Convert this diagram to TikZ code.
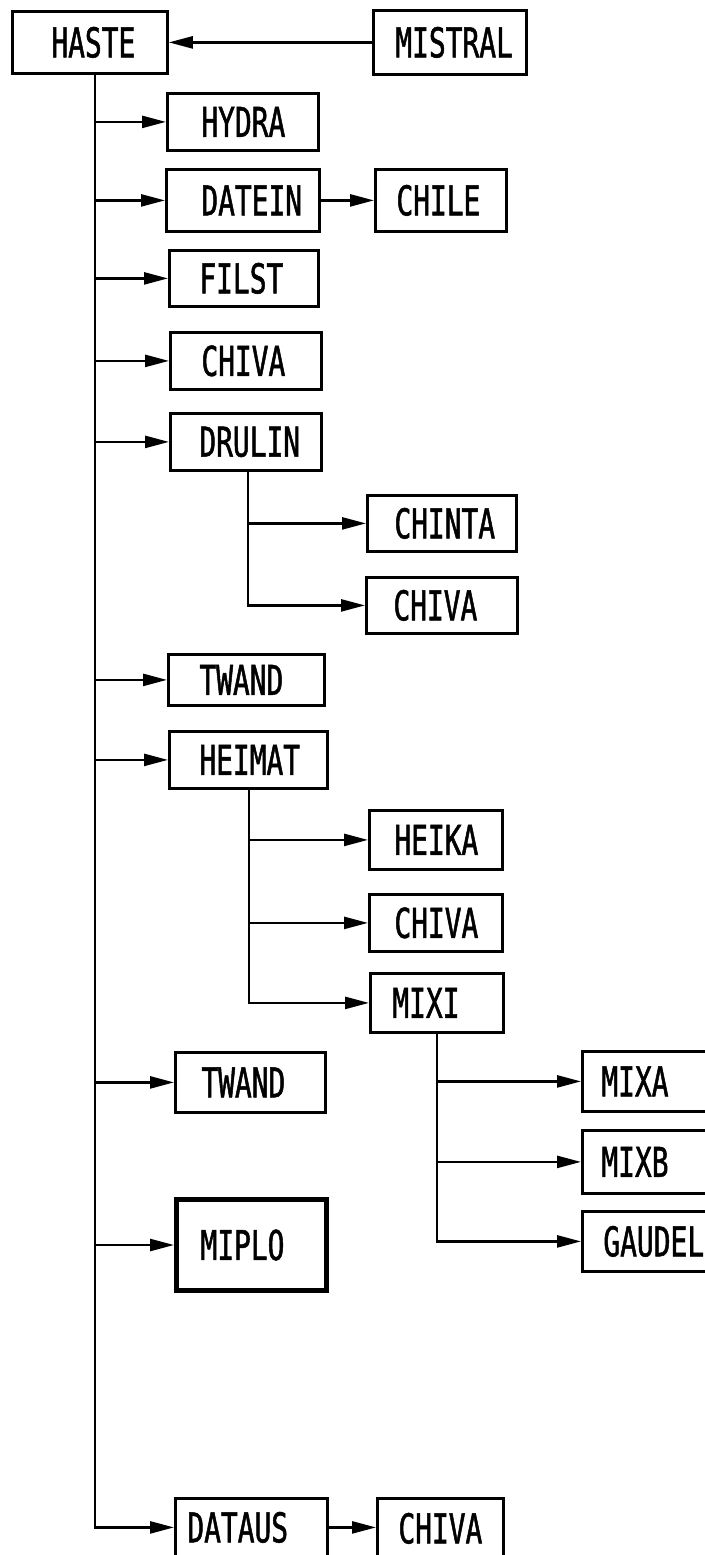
\documentclass[tikz,border=0pt]{standalone}
\usepackage{fontspec}
\newfontfamily\boxfont[FakeStretch=0.68,FakeBold=1.2]{DejaVu Sans Mono}
\usetikzlibrary{arrows.meta}
\newcommand\bx[8][]{%
  \node[box,#1,minimum width=#5pt,minimum height=#6pt] (#2) at (#3,#4)
    {\makebox[#5pt][l]{\hspace*{#7pt}#8}};}
\begin{document}
\begin{tikzpicture}[x=1pt,y=-1pt,
  box/.style={draw, line width=2.8pt, rectangle, inner sep=0pt, anchor=north west,
    font=\boxfont\fontsize{41}{41}\selectfont},
  heavy/.style={line width=5pt},
  con/.style={line width=2.5pt},
  arr/.style={con, -{Triangle[length=24pt,width=12pt]}}]
\useasboundingbox (0,0) rectangle (704,1555);
% boxes: name, x, y, w, h, text offset, text
\bx{HASTE}{11}{10}{155}{62}{39}{HASTE}
\bx{MISTRAL}{372}{9}{153}{64}{22}{MISTRAL}
\bx{HYDRA}{166}{92}{151}{57}{34}{HYDRA}
\bx{DATEIN}{165}{168}{153}{62}{35}{DATEIN}
\bx{CHILE}{374}{168}{131}{62}{21}{CHILE}
\bx{FILST}{168}{249}{149}{56}{30}{FILST}
\bx{CHIVAa}{169}{331}{151}{57}{31}{CHIVA}
\bx{DRULIN}{169}{412}{151}{57}{29}{DRULIN}
\bx{CHINTA}{366}{494}{149}{56}{27}{CHINTA}
\bx{CHIVAb}{365}{576}{151}{56}{27}{CHIVA}
\bx{TWANDa}{167}{653}{156}{51}{31}{TWAND}
\bx{HEIMAT}{168}{730}{158}{57}{30}{HEIMAT}
\bx{HEIKA}{368}{809}{133}{59}{25}{HEIKA}
\bx{CHIVAc}{368}{893}{133}{57}{25}{CHIVA}
\bx{MIXI}{369}{972}{133}{59}{22}{MIXI}
\bx{TWANDb}{174}{1051}{150}{60}{26}{TWAND}
\bx{MIXA}{581}{1050}{140}{60}{19}{MIXA}
\bx{MIXB}{581}{1129}{140}{63}{19}{MIXB}
\bx{GAUDEL}{581}{1210}{140}{60}{21}{GAUDEL}
\bx[heavy]{MIPLO}{174}{1197}{150}{91}{24}{MIPLO}
\bx{DATAUS}{174}{1497}{152}{58}{12}{DATAUS}
\bx{CHIVAd}{376}{1497}{126}{60}{21}{CHIVA}
% trunk positions
\coordinate (tx) at (95,0);
\coordinate (dx) at (248,0);
\coordinate (hx) at (249,0);
% connectors
\draw[arr] (MISTRAL.west) -- (HASTE.east);
\draw[arr] (HASTE.south -| tx) |- (DATAUS.west);
\foreach \n in {HYDRA,DATEIN,FILST,CHIVAa,DRULIN,TWANDa,HEIMAT,TWANDb,MIPLO}
  \draw[arr] (tx |- \n.west) -- (\n.west);
\draw[arr] (DATEIN.east) -- (CHILE.west);
\draw[arr] (DRULIN.south -| dx) |- (CHIVAb.west);
\draw[arr] (dx |- CHINTA.west) -- (CHINTA.west);
\draw[arr] (HEIMAT.south -| hx) |- (MIXI.west);
\draw[arr] (hx |- HEIKA.west) -- (HEIKA.west);
\draw[arr] (hx |- CHIVAc.west) -- (CHIVAc.west);
\draw[arr] (MIXI.south) |- (GAUDEL.west);
\draw[arr] (MIXI.south |- MIXA.west) -- (MIXA.west);
\draw[arr] (MIXI.south |- MIXB.west) -- (MIXB.west);
\draw[arr] (DATAUS.east) -- (DATAUS.east -| CHIVAd.west);
\end{tikzpicture}
\end{document}
